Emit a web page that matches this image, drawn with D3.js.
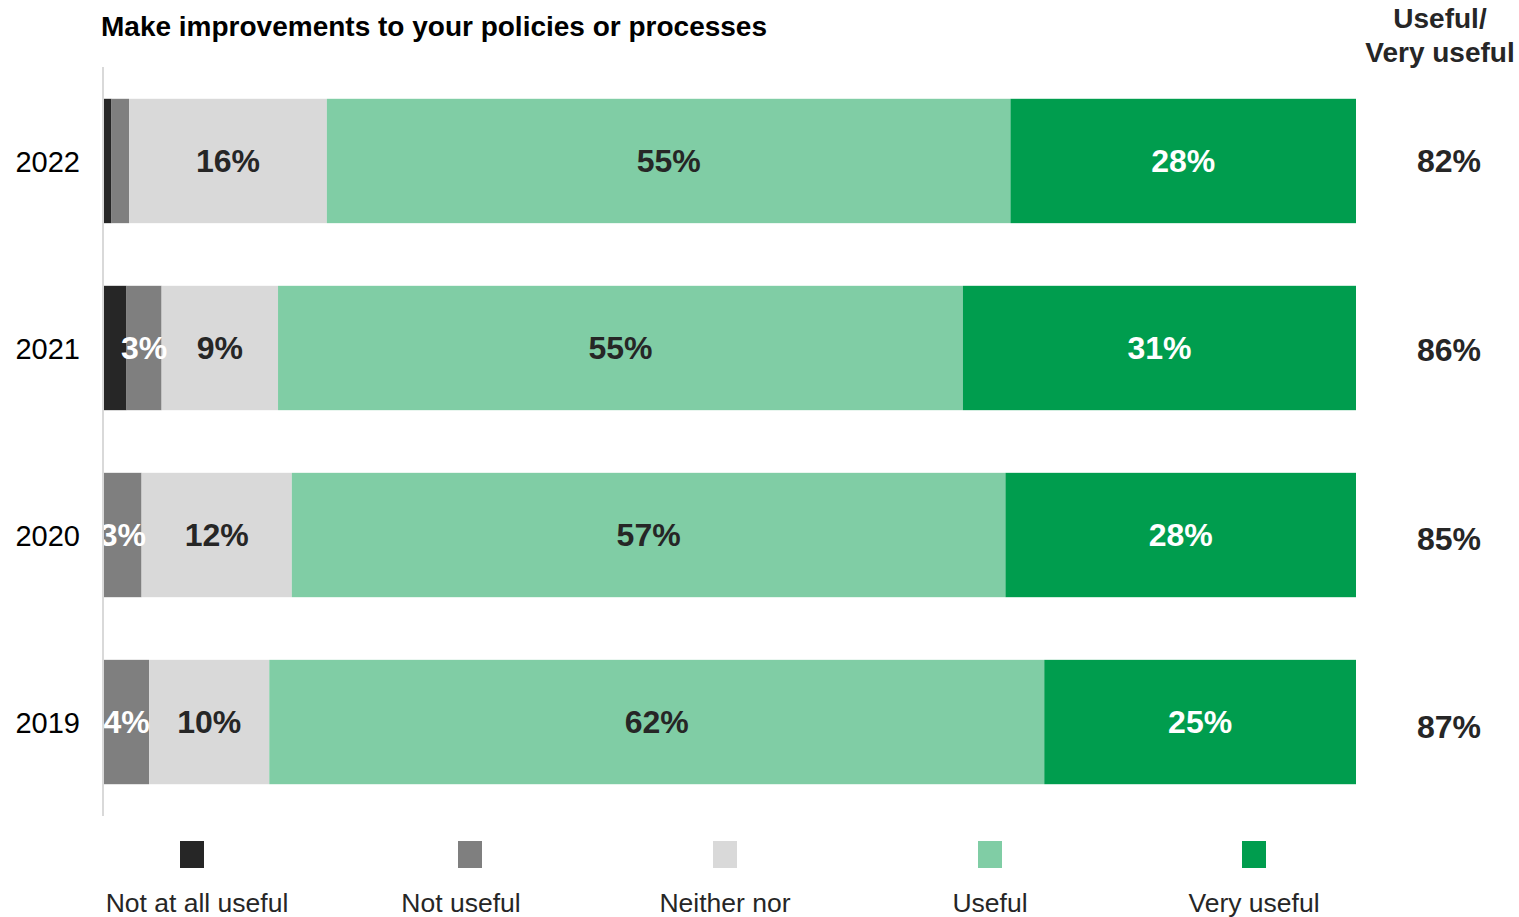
<!DOCTYPE html>
<html>
<head>
<meta charset="utf-8">
<script src="https://cdn.jsdelivr.net/npm/d3@7"></script>
<style>
  html, body { margin: 0; padding: 0; background: #fff; }
  svg { display: block; font-family: "Liberation Sans", Arial, sans-serif; }
</style>
</head>
<body>
<svg id="chart" width="1519" height="917"></svg>
<script>
// Survey responses: "Make improvements to your policies or processes"
const years = ["2022", "2021", "2020", "2019"];
const categories = ["Not at all useful", "Not useful", "Neither nor", "Useful", "Very useful"];
const notAtAllUseful = [0.6, 1.8, 0.0, 0.0];
const notUseful      = [1.4, 2.8, 3.0, 3.6];
const neitherNor     = [15.8, 9.3, 12.0, 9.6];
const useful         = [54.6, 54.7, 57.0, 61.9];
const veryUseful     = [27.6, 31.4, 28.0, 24.9];
const colors = ["#262626", "#7f7f7f", "#d9d9d9", "#80cda5", "#009d4e"];
const labelColors = ["#ffffff", "#ffffff", "#262626", "#262626", "#ffffff"];

const seriesValues = [notAtAllUseful, notUseful, neitherNor, useful, veryUseful];
const rows = years.map((y, i) => {
  const r = { year: y };
  categories.forEach((c, k) => { r[c] = seriesValues[k][i]; });
  return r;
});
const stacked = d3.stack().keys(categories)(rows);

const svg = d3.select("#chart");
const W = 1519;
const left = 104, right = 1356;

const x = d3.scaleLinear().domain([0, 100]).range([left, right]);
const y = d3.scaleBand().domain(years).range([67, 816]).paddingInner(0.335).paddingOuter(0.17);
// Totals column sits slightly lower toward the bottom rows
const yTotal = d3.scalePoint().domain(years).range([161, 727]);

// Title
svg.append("text")
  .attr("x", 101).attr("y", 36)
  .attr("font-size", 28).attr("font-weight", "bold").attr("fill", "#000")
  .text("Make improvements to your policies or processes");

// Right-hand header
const hdr = svg.append("text")
  .attr("text-anchor", "middle").attr("font-size", 28).attr("font-weight", "bold").attr("fill", "#262626");
hdr.append("tspan").attr("x", 1440).attr("y", 28).text("Useful/");
hdr.append("tspan").attr("x", 1440).attr("y", 62).text("Very useful");

// Bars
const groups = svg.append("g").selectAll("g")
  .data(stacked).join("g")
  .attr("fill", (d, i) => colors[i]);

groups.selectAll("rect")
  .data(d => d.map(p => ({ p, key: d.key })))
  .join("rect")
  .attr("x", d => x(d.p[0]))
  .attr("width", d => x(d.p[1]) - x(d.p[0]))
  .attr("y", d => y(d.p.data.year))
  .attr("height", y.bandwidth());

// Segment value labels
const fmt = v => d3.format(".0f")(v) + "%";
stacked.forEach((s, i) => {
  svg.append("g").selectAll("text")
    .data(s.filter(p => (p[1] - p[0]) >= 2.5))
    .join("text")
    .attr("x", p => (x(p[0]) + x(p[1])) / 2)
    .attr("y", p => y(p.data.year) + y.bandwidth() / 2)
    .attr("dy", "0.35em")
    .attr("text-anchor", "middle")
    .attr("font-size", 32).attr("font-weight", "bold")
    .attr("fill", labelColors[i])
    .text(p => fmt(p[1] - p[0]));
});

// Axis with year labels
const yAxis = svg.append("g")
  .attr("transform", `translate(${left - 1},0)`)
  .call(d3.axisLeft(y).tickSize(0).tickPadding(23));
yAxis.select(".domain").remove();
yAxis.selectAll("text").attr("font-size", 29).attr("fill", "#000")
  .attr("font-family", "\"Liberation Sans\", Arial, sans-serif").attr("dy", "0.38em");
svg.append("line")
  .attr("x1", left - 1).attr("x2", left - 1)
  .attr("y1", 67).attr("y2", 816)
  .attr("stroke", "#d9d9d9").attr("stroke-width", 2);

// Useful + Very useful totals
svg.append("g").selectAll("text")
  .data(rows).join("text")
  .attr("x", 1449)
  .attr("y", d => yTotal(d.year))
  .attr("dy", "0.35em")
  .attr("text-anchor", "middle")
  .attr("font-size", 32).attr("font-weight", "bold").attr("fill", "#262626")
  .text(d => fmt(d["Useful"] + d["Very useful"]));

// Legend
const swatchX = [192, 470, 725, 990, 1254];
const legendTextX = [197, 461, 725, 990, 1254];
const legend = svg.append("g").selectAll("g")
  .data(categories).join("g");
legend.append("rect")
  .attr("x", (d, i) => swatchX[i] - 12).attr("y", 841).attr("width", 24).attr("height", 27)
  .attr("fill", (d, i) => colors[i]);
legend.append("text")
  .attr("x", (d, i) => legendTextX[i])
  .attr("y", 912).attr("text-anchor", "middle")
  .attr("font-size", 26.5).attr("fill", "#262626")
  .text(d => d);
</script>
</body>
</html>
